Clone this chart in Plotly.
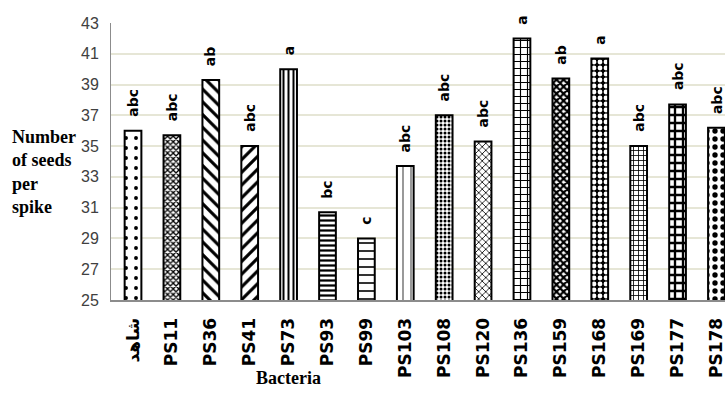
import plotly.graph_objects as go

categories = ["شاهد", "PS11", "PS36", "PS41", "PS73", "PS93", "PS99", "PS103",
              "PS108", "PS120", "PS136", "PS159", "PS168", "PS169", "PS177", "PS178"]
values = [36.0, 35.7, 39.3, 35.0, 40.0, 30.7, 29.0, 33.7,
          37.0, 35.3, 42.0, 39.4, 40.7, 35.0, 37.7, 36.2]
letters = ["abc", "abc", "ab", "abc", "a", "bc", "c", "abc",
           "abc", "abc", "a", "ab", "a", "abc", "abc", "abc"]
y_ticks = [25, 27, 29, 31, 33, 35, 37, 39, 41, 43]

# pattern styling per bar
p_shape = [".", "x", "\\", "/", "|", "-", "-", "|", ".", "x", "+", "x", ".", "+", "+", "."]
p_fg = ["black", "black", "black", "black", "black", "black", "black", "#555555",
        "black", "black", "black", "black", "white", "black", "black", "black"]
p_bg = ["white", "white", "white", "white", "white", "white", "white", "white",
        "white", "white", "white", "white", "black", "white", "white", "white"]
p_size = [10, 4, 9, 9, 5, 5, 8, 8, 4, 5, 7, 5, 6, 5, 8, 8]
p_sol = [0.12, 0.55, 0.35, 0.35, 0.4, 0.45, 0.2, 0.15, 0.45, 0.3, 0.3, 0.7, 0.5, 0.3, 0.5, 0.35]

fig = go.Figure()
fig.add_trace(go.Bar(
    x=categories, y=values, width=0.43,
    marker=dict(color="white", line=dict(color="black", width=2),
                pattern=dict(shape=p_shape, fgcolor=p_fg, bgcolor=p_bg,
                             size=p_size, solidity=p_sol, fillmode="replace")),
    showlegend=False,
))

for c, v, t in zip(categories, values, letters):
    fig.add_annotation(x=c, y=v, text="<b>" + t + "</b>", textangle=-90,
                       showarrow=False, yanchor="bottom", xanchor="center", yshift=12,
                       font=dict(family="DejaVu Sans", size=14, color="black"))

fig.add_annotation(xref="paper", yref="paper", x=-0.1645, y=0.462,
                   text="<b>Number<br>of seeds<br>per<br>spike</b>", align="left",
                   xanchor="left", yanchor="middle", showarrow=False,
                   font=dict(family="Liberation Serif", size=18, color="black"))
fig.add_annotation(xref="paper", yref="paper", x=(288 - 111) / 614, y=-(378 - 300) / 277,
                   text="<b>Bacteria</b>", xanchor="center", yanchor="middle",
                   showarrow=False,
                   font=dict(family="Liberation Serif", size=18, color="black"))

fig.update_layout(
    width=725, height=407,
    margin=dict(l=111, r=0, t=23, b=107),
    plot_bgcolor="white", paper_bgcolor="white",
)
fig.update_xaxes(
    range=[-0.566, 15.22], tickangle=-90, automargin=False,
    tickfont=dict(family="DejaVu Sans", size=17, color="black", weight="bold"),
    showline=True, linecolor="#8c8c8c", linewidth=2, ticks="",
    ticklabelstandoff=9, showgrid=False,
)
fig.update_yaxes(
    range=[25, 43], tickvals=y_ticks, automargin=False,
    tickfont=dict(family="Liberation Sans", size=16, color="#404040"),
    showline=True, linecolor="#8c8c8c", linewidth=1,
    gridcolor="#e6e6d6", gridwidth=2, ticks="", zeroline=False,
    ticklabelstandoff=8,
)

fig.write_html("out.html", config={"displayModeBar": False},
               post_script="document.body.style.margin='0';")
